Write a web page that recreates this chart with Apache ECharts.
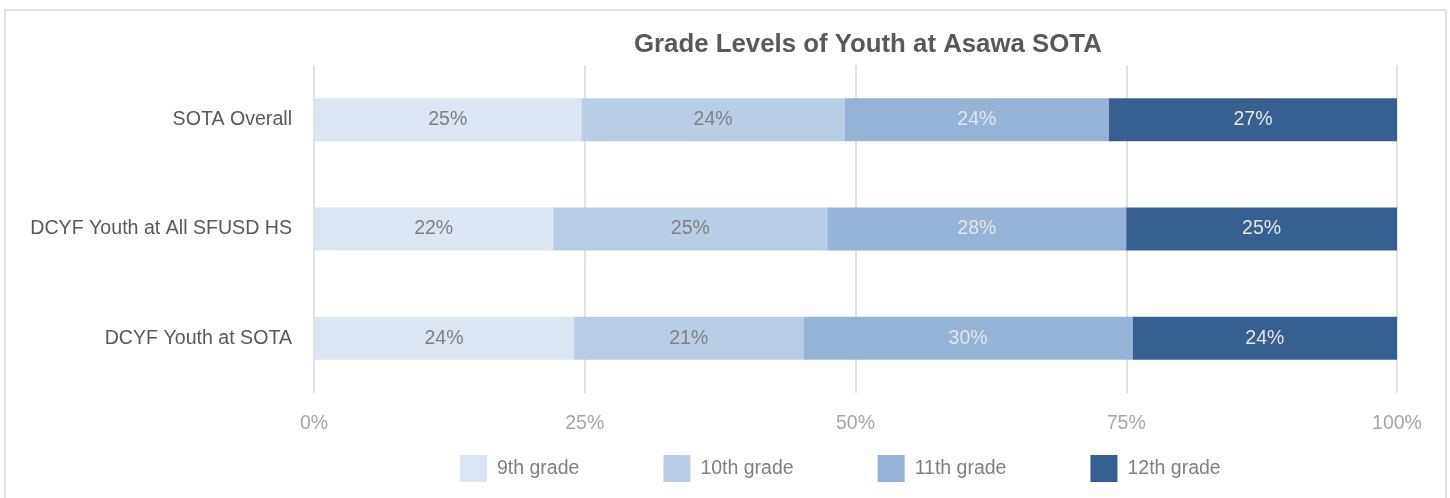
<!DOCTYPE html>
<html>
<head>
<meta charset="utf-8">
<title>Grade Levels of Youth at Asawa SOTA</title>
<script src="https://cdn.jsdelivr.net/npm/echarts@6/dist/echarts.min.js"></script>
<style>
  html, body { margin: 0; padding: 0; background: #fff; }
  #chart { width: 1450px; height: 498px; }
</style>
</head>
<body>
<div id="chart"></div>
<script>
// data (percent of each group)
var groups = ['SOTA Overall', 'DCYF Youth at All SFUSD HS', 'DCYF Youth at SOTA'];
var grades = ['9th grade', '10th grade', '11th grade', '12th grade'];
var grade9 = [24.7, 22.1, 24.0];
var grade10 = [24.3, 25.3, 21.2];
var grade11 = [24.4, 27.6, 30.4];
var grade12 = [26.6, 25.0, 24.4];
var xTicks = [0, 25, 50, 75, 100];

var colors = ['#dce6f2', '#b9cde5', '#95b3d7', '#366092'];
var labelColors = ['#7f7f7f', '#7f7f7f', '#e6e6e6', '#e6e6e6'];
var font = '"Liberation Sans Narrow", "Arial Narrow", "Liberation Sans", Arial, sans-serif';

var chart = echarts.init(document.getElementById('chart'));

var seriesData = [grade9, grade10, grade11, grade12];
var series = [];
for (var i = 0; i < grades.length; i++) {
    series.push({
        name: grades[i],
        type: 'bar',
        stack: 'total',
        barWidth: 43,
        data: seriesData[i],
        itemStyle: { color: colors[i] },
        label: {
            show: true,
            position: 'inside',
            color: labelColors[i],
            fontFamily: font,
            fontSize: 19.5,
            formatter: function (p) { return Math.round(p.value) + '%'; }
        }
    });
}

var option = {
    animation: false,
    color: colors,
    graphic: [{
        type: 'rect',
        shape: { x: 5, y: 10, width: 1441, height: 600 },
        style: { fill: 'none', stroke: '#d9d9d9', lineWidth: 1.5 },
        silent: true
    }],
    title: {
        text: 'Grade Levels of Youth at Asawa SOTA',
        left: 629,
        top: 27,
        textStyle: {
            fontFamily: font,
            fontSize: 25.8,
            fontWeight: 'bold',
            color: '#595959'
        }
    },
    legend: {
        data: grades,
        left: 460,
        top: 455,
        padding: 0,
        itemWidth: 27,
        itemHeight: 27,
        itemGap: 84,
        icon: 'rect',
        textStyle: { fontFamily: font, fontSize: 19.5, color: '#7f7f7f', padding: [0, 0, 0, 5] }
    },
    grid: {
        left: 314,
        right: 53,
        top: 65,
        bottom: 105,
        containLabel: false
    },
    xAxis: {
        type: 'value',
        min: xTicks[0],
        max: xTicks[xTicks.length - 1],
        interval: 25,
        axisLine: { show: false },
        axisTick: { show: false },
        splitLine: { show: true, lineStyle: { color: '#d9d9d9', width: 1.5 } },
        axisLabel: {
            margin: 21,
            color: '#a6a6a6',
            fontFamily: font,
            fontSize: 19.5,
            formatter: '{value}%'
        }
    },
    yAxis: {
        type: 'category',
        data: groups,
        inverse: true,
        axisLine: { show: false },
        axisTick: { show: false },
        axisLabel: {
            margin: 22,
            color: '#595959',
            fontFamily: font,
            fontSize: 19.6
        }
    },
    series: series
};

chart.setOption(option);
</script>
</body>
</html>
